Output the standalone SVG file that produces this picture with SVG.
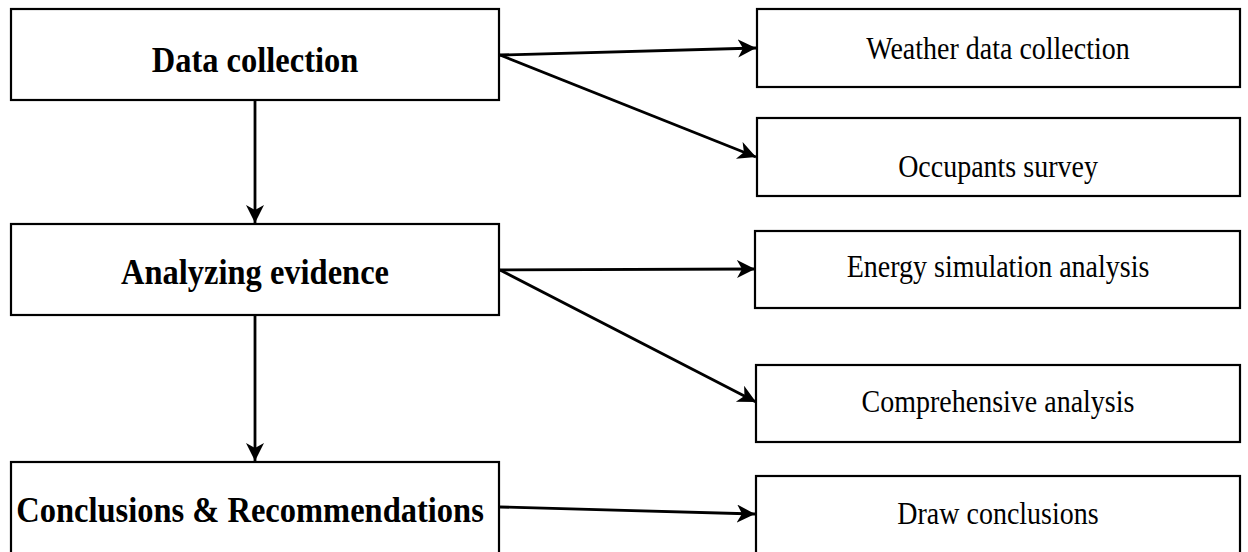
<svg xmlns="http://www.w3.org/2000/svg" width="1248" height="552" viewBox="0 0 1248 552">
<style>
.box{fill:#fff;stroke:#000;stroke-width:2.2}
.main{font-family:"Liberation Serif","Times New Roman",serif;font-weight:bold;font-size:32.5px;fill:#000;text-anchor:middle}
.sub{font-family:"Liberation Serif","Times New Roman",serif;font-size:28px;fill:#000;text-anchor:middle}
.edge{fill:none;stroke:#000;stroke-width:2.8;marker-end:url(#arr)}
</style>
<defs>
<marker id="arr" markerUnits="userSpaceOnUse" markerWidth="20" markerHeight="20" refX="18" refY="9" orient="auto">
<path d="M0,0 L18,9 L0,18 L5,9 z" fill="#000"/>
</marker>
</defs>
<rect width="1248" height="552" fill="#fff"/>
<g id="n-data-collection"><rect class="box" x="11" y="9" width="488" height="91"/><text class="main" transform="translate(255,72) scale(1,1.1)">Data collection</text></g>
<g id="n-analyzing-evidence"><rect class="box" x="11" y="224" width="488" height="91"/><text class="main" transform="translate(255,284) scale(1,1.1)">Analyzing evidence</text></g>
<g id="n-conclusions"><rect class="box" x="11" y="462" width="488" height="100"/><text class="main" transform="translate(250,522) scale(1,1.1)">Conclusions &amp; Recommendations</text></g>
<g id="n-weather"><rect class="box" x="757" y="9" width="483" height="78"/><text class="sub" transform="translate(998,59) scale(1,1.1)">Weather data collection</text></g>
<g id="n-occupants"><rect class="box" x="757" y="118" width="483" height="78"/><text class="sub" transform="translate(998,177) scale(1,1.1)">Occupants survey</text></g>
<g id="n-energy"><rect class="box" x="755" y="231" width="485" height="77"/><text class="sub" transform="translate(998,277) scale(1,1.1)">Energy simulation analysis</text></g>
<g id="n-comprehensive"><rect class="box" x="756" y="365" width="484" height="77"/><text class="sub" transform="translate(998,412) scale(1,1.1)">Comprehensive analysis</text></g>
<g id="n-draw"><rect class="box" x="756" y="476" width="484" height="90"/><text class="sub" transform="translate(998,524) scale(1,1.1)">Draw conclusions</text></g>
<g id="connectors">
<path class="edge" d="M500,55 L756,48"/>
<path class="edge" d="M500,55 L756,157"/>
<path class="edge" d="M255,101 L255,223"/>
<path class="edge" d="M500,270 L755,269"/>
<path class="edge" d="M500,270 L756,402"/>
<path class="edge" d="M255,316 L255,461"/>
<path class="edge" d="M500,507 L755,514"/>
</g>
</svg>
